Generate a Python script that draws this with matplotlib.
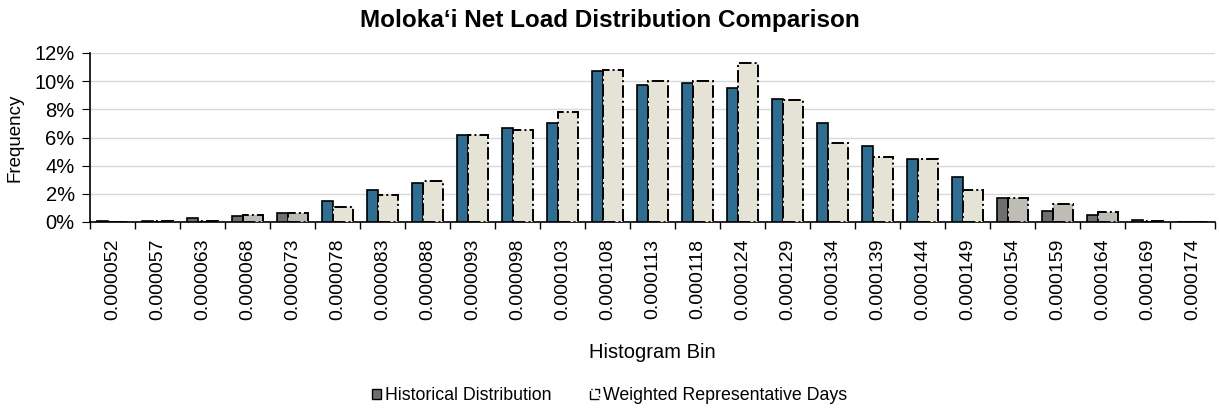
import numpy as np
import matplotlib.pyplot as plt
from matplotlib.ticker import PercentFormatter
from matplotlib.patches import Patch

plt.rcParams['font.family'] = ['Liberation Sans', 'DejaVu Sans']

# Histogram bins and frequencies (%)
bins = ["0.000052", "0.000057", "0.000063", "0.000068", "0.000073", "0.000078",
        "0.000083", "0.000088", "0.000093", "0.000098", "0.000103", "0.000108",
        "0.000113", "0.000118", "0.000124", "0.000129", "0.000134", "0.000139",
        "0.000144", "0.000149", "0.000154", "0.000159", "0.000164", "0.000169",
        "0.000174"]
historical = [0.05, 0.1, 0.3, 0.45, 0.65, 1.5, 2.3, 2.8, 6.2, 6.7, 7.0, 10.7,
              9.7, 9.9, 9.5, 8.7, 7.0, 5.4, 4.5, 3.2, 1.7, 0.8, 0.5, 0.15, 0.02]
weighted = [0.0, 0.05, 0.05, 0.5, 0.65, 1.1, 1.9, 2.9, 6.2, 6.5, 7.8, 10.8,
            10.0, 10.0, 11.3, 8.65, 5.6, 4.6, 4.5, 2.3, 1.7, 1.3, 0.7, 0.05, 0.02]

x = np.arange(len(bins))
hist_colors = ["#6f6f6f" if (i < 5 or i > 19) else "#2f6e93" for i in range(len(bins))]
wt_colors = ["#bdbdb6" if (i < 5 or i > 19) else "#e4e3d6" for i in range(len(bins))]

fig = plt.figure(figsize=(12.19, 4.08), dpi=100)
ax = fig.add_axes([90/1219, 1 - 222/408, 1125/1219, 169/408])

ax.bar(x - 0.23, historical, width=0.25, color=hist_colors, edgecolor="black",
       linewidth=1.2, zorder=3)
ax.bar(x + 0.12, weighted, width=0.44, color=wt_colors, edgecolor="black",
       linewidth=1.4, linestyle="-.", zorder=3)

ax.set_xlim(-0.5, len(bins) - 0.5)
ax.set_ylim(0, 12)
ax.set_yticks(np.arange(0, 13, 2))
ax.yaxis.set_major_formatter(PercentFormatter(decimals=0))
ax.grid(axis="y", color="#d9d9d9", linewidth=1, zorder=0)

ax.set_xticks(x)
ax.set_xticklabels(bins, rotation=90, fontsize=14)
ax.set_xticks(np.arange(-0.5, len(bins)), minor=True)
ax.tick_params(axis="x", which="major", length=0, pad=12)
ax.tick_params(axis="x", which="minor", length=5, width=1)
ax.tick_params(axis="y", labelsize=14.5, length=6, pad=5)

for s in ["top", "right"]:
    ax.spines[s].set_visible(False)
ax.spines["bottom"].set_linewidth(1.2)
ax.spines["left"].set_linewidth(1.2)

ax.set_ylabel("Frequency", fontsize=13.5, labelpad=8)
ax.set_xlabel("Histogram Bin", fontsize=14.5, labelpad=16)
fig.suptitle("Moloka\u2018i Net Load Distribution Comparison", fontsize=17.5,
             fontweight="bold", y=0.978)

handles = [Patch(facecolor="#6f6f6f", edgecolor="black"),
           Patch(facecolor="white", edgecolor="black", linestyle="-.")]
fig.legend(handles, ["Historical Distribution", "Weighted Representative Days"],
           loc="center", bbox_to_anchor=(0.5, 1 - 396/408), ncol=2, frameon=False,
           fontsize=12.8, handlelength=0.5, handleheight=0.5, handletextpad=0.2,
           columnspacing=2.2)

fig.savefig("out.png", dpi=100)
